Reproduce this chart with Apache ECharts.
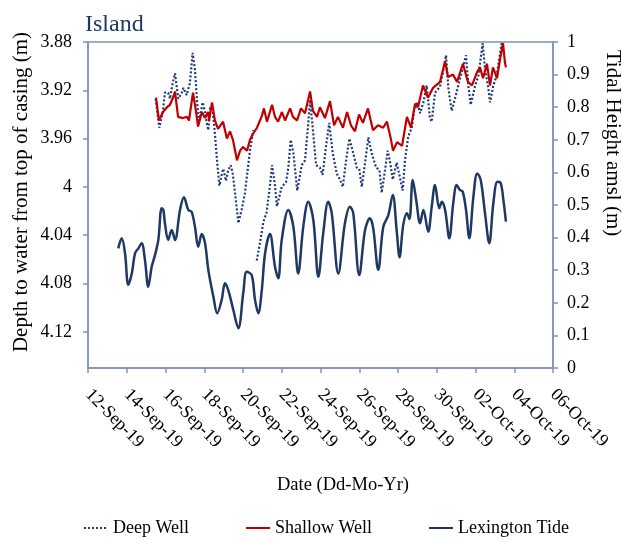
<!DOCTYPE html>
<html>
<head>
<meta charset="utf-8">
<script src="https://cdn.jsdelivr.net/npm/echarts@6/dist/echarts.min.js"></script>
<style>
html,body{margin:0;padding:0;background:#fff;}
#chart{width:622px;height:542px;}
</style>
</head>
<body>
<div id="chart"></div>
<script>
// X tick labels (value axis in days since 12-Sep-19, one label every 2 days)
const xTickLabels = ['12-Sep-19','14-Sep-19','16-Sep-19','18-Sep-19','20-Sep-19','22-Sep-19','24-Sep-19','26-Sep-19','28-Sep-19','30-Sep-19','02-Oct-19','04-Oct-19','06-Oct-19'];
const seriesNames = ['Deep Well','Shallow Well','Lexington Tide'];

// [day of September 2019 (31 = 1 Oct), depth to water (m)]
const deepWell = [
[15.49,3.927],[15.68,3.951],[15.86,3.938],[15.97,3.922],[16.14,3.922],[16.23,3.927],[16.37,3.914],[16.49,3.906],[16.58,3.917],[16.66,3.927],
[16.84,3.922],[16.92,3.918],[17.09,3.924],[17.26,3.914],[17.40,3.889],[17.52,3.903],[17.64,3.932],[17.74,3.945],[17.92,3.930],[18.04,3.938],
[18.13,3.947],[18.21,3.953],[18.30,3.934],[18.44,3.937],[18.55,3.956],[18.67,3.980],[18.78,3.999],[18.90,3.990],[18.98,3.985],[19.12,3.995],
[19.24,3.986],[19.37,3.982],[19.47,3.989],[19.59,4.005],[19.76,4.030],[19.93,4.019],[20.10,4.005],[20.36,3.970],[20.53,3.953],
[20.62,null],
[20.71,4.061],[20.88,4.046],[21.05,4.029],[21.22,4.021],[21.39,3.999],[21.50,3.982],[21.65,3.999],[21.75,4.016],[22.00,4.000],[22.22,3.996],
[22.34,3.984],[22.46,3.961],[22.60,3.972],[22.74,3.994],[22.80,4.003],[23.03,3.982],[23.20,3.978],[23.37,3.947],[23.46,3.928],[23.60,3.951],
[23.77,3.982],[23.97,3.984],[24.11,3.990],[24.28,3.967],[24.45,3.947],[24.63,3.972],[24.84,3.989],[25.01,3.994],[25.15,4.000],[25.32,3.978],
[25.49,3.960],[25.69,3.972],[25.87,3.984],[26.00,3.985],[26.13,4.000],[26.30,3.980],[26.47,3.959],[26.64,3.972],[26.87,3.984],[27.04,3.986],
[27.16,4.005],[27.33,3.986],[27.47,3.970],[27.62,3.982],[27.73,3.994],[27.93,3.980],[28.07,3.990],[28.24,4.003],[28.36,3.978],[28.53,3.958],
[28.71,3.951],[28.83,3.937],[29.00,3.930],[29.14,3.939],[29.31,3.930],[29.48,3.916],[29.65,3.943],[29.74,3.946],[29.91,3.922],[30.17,3.917],
[30.34,3.903],[30.48,3.891],[30.60,3.918],[30.77,3.937],[30.94,3.927],[31.11,3.916],[31.29,3.905],[31.51,3.891],[31.63,3.916],[31.75,3.932],
[31.97,3.917],[32.15,3.908],[32.37,3.881],[32.49,3.902],[32.66,3.918],[32.75,3.930],[32.92,3.916],[33.09,3.908],[33.35,3.881],[33.42,3.884]
];

// [day of September 2019, depth to water (m)]
const shallowWell = [
[15.51,3.926],[15.66,3.945],[15.87,3.938],[16.08,3.934],[16.23,3.932],[16.39,3.926],[16.49,3.921],[16.65,3.942],[16.90,3.943],[17.11,3.942],
[17.21,3.945],[17.42,3.922],[17.57,3.937],[17.68,3.950],[17.88,3.938],[18.04,3.943],[18.19,3.938],[18.25,3.945],[18.40,3.930],[18.55,3.945],
[18.71,3.952],[18.97,3.946],[19.17,3.960],[19.33,3.954],[19.48,3.961],[19.69,3.978],[19.85,3.970],[20.00,3.967],[20.21,3.970],[20.36,3.961],
[20.52,3.956],[20.72,3.951],[20.98,3.941],[21.08,3.935],[21.24,3.946],[21.50,3.932],[21.65,3.942],[21.81,3.946],[22.01,3.938],[22.17,3.945],
[22.43,3.935],[22.58,3.942],[22.79,3.945],[22.99,3.935],[23.20,3.939],[23.46,3.921],[23.61,3.937],[23.82,3.942],[23.97,3.934],[24.23,3.943],
[24.49,3.929],[24.70,3.949],[24.90,3.942],[25.16,3.951],[25.37,3.938],[25.57,3.949],[25.78,3.954],[25.99,3.940],[26.19,3.947],[26.45,3.935],
[26.71,3.953],[26.97,3.949],[27.23,3.951],[27.43,3.946],[27.64,3.961],[27.74,3.970],[27.95,3.963],[28.21,3.966],[28.31,3.967],[28.46,3.942],
[28.67,3.951],[28.88,3.931],[29.03,3.934],[29.29,3.916],[29.55,3.926],[29.81,3.918],[30.17,3.913],[30.43,3.896],[30.58,3.909],[30.84,3.907],
[31.05,3.913],[31.35,3.898],[31.61,3.913],[31.82,3.916],[32.08,3.905],[32.23,3.901],[32.39,3.910],[32.59,3.898],[32.75,3.916],[32.90,3.901],
[33.11,3.910],[33.27,3.894],[33.42,3.881],[33.52,3.897],[33.57,3.901]
];

// [day of September 2019, tidal height amsl (m)]
const lexingtonTide = [
[13.56,0.367],[13.74,0.398],[13.91,0.352],[14.08,0.255],[14.26,0.290],[14.43,0.352],[14.60,0.367],[14.77,0.383],[14.94,0.331],[15.11,0.249],
[15.29,0.311],[15.46,0.347],[15.63,0.393],[15.80,0.490],[15.89,0.485],[15.97,0.444],[16.14,0.393],[16.32,0.423],[16.49,0.393],[16.75,0.485],
[16.95,0.524],[17.18,0.485],[17.35,0.479],[17.52,0.433],[17.69,0.372],[17.87,0.411],[18.04,0.383],[18.21,0.301],[18.47,0.219],[18.67,0.168],
[18.90,0.209],[19.07,0.260],[19.24,0.239],[19.50,0.178],[19.76,0.122],[20.02,0.234],[20.19,0.295],[20.45,0.285],[20.62,0.209],[20.79,0.168],
[20.97,0.239],[21.14,0.352],[21.39,0.411],[21.65,0.311],[21.82,0.275],[22.00,0.393],[22.34,0.485],[22.60,0.433],[22.85,0.290],[23.11,0.433],
[23.37,0.510],[23.63,0.454],[23.89,0.280],[24.14,0.413],[24.40,0.510],[24.58,0.475],[24.92,0.290],[25.26,0.444],[25.52,0.495],[25.69,0.475],
[26.00,0.285],[26.30,0.423],[26.55,0.459],[26.72,0.429],[26.98,0.301],[27.24,0.433],[27.50,0.469],[27.73,0.531],[27.93,0.423],[28.08,0.340],
[28.27,0.439],[28.46,0.475],[28.59,0.457],[28.76,0.577],[28.94,0.515],[29.14,0.444],[29.31,0.485],[29.56,0.418],[29.74,0.495],[29.91,0.561],
[30.13,0.490],[30.26,0.510],[30.43,0.485],[30.65,0.398],[30.85,0.505],[31.03,0.561],[31.20,0.546],[31.34,0.541],[31.51,0.485],[31.68,0.398],
[31.89,0.525],[32.09,0.597],[32.27,0.577],[32.49,0.475],[32.71,0.383],[32.92,0.505],[33.13,0.571],[33.30,0.567],[33.44,0.515],[33.57,0.449]
];

const START_DAY = 12; // x axis origin: 12 September
const toXY = arr => arr.map(p => [p[0] - START_DAY, p[1]]);

const AXIS_COLOR = '#7F93B8';
const SERIF = '"Liberation Serif", "Times New Roman", serif';
const NAVY = '#1F3864';

const chart = echarts.init(document.getElementById('chart'), null, {renderer: 'canvas'});
chart.setOption({
  animation: false,
  backgroundColor: '#ffffff',
  grid: {left: 88, right: 69, top: 42, bottom: 174, show: true, borderColor: AXIS_COLOR, borderWidth: 1.5, containLabel: false},
  legend: {
    data: seriesNames,
    left: 83, top: 519, padding: 0,
    itemWidth: 24, itemHeight: 2, itemGap: 56,
    itemStyle: {opacity: 0},
    textStyle: {fontFamily: SERIF, fontSize: 18, color: '#000'}
  },
  xAxis: {
    type: 'value', min: 0, max: 24, interval: 2,
    axisLine: {show: true, lineStyle: {color: AXIS_COLOR, width: 1.5}},
    axisTick: {show: true, inside: false, length: 5, lineStyle: {color: AXIS_COLOR, width: 1.5}},
    splitLine: {show: false},
    axisLabel: {
      rotate: -45, margin: 24, color: '#000', fontFamily: SERIF, fontSize: 18,
      formatter: v => xTickLabels[Math.round(v / 2)] || ''
    }
  },
  yAxis: [
    {
      type: 'value', inverse: true, min: 3.88, max: 4.15, interval: 0.04,
      axisLine: {show: true, lineStyle: {color: AXIS_COLOR, width: 1.5}},
      axisTick: {show: true, inside: false, length: 5, lineStyle: {color: AXIS_COLOR, width: 1.5}},
      splitLine: {show: false},
      axisLabel: {margin: 16, color: '#000', fontFamily: SERIF, fontSize: 18, showMaxLabel: false}
    },
    {
      type: 'value', position: 'right', min: 0, max: 1, interval: 0.1,
      axisLine: {show: true, lineStyle: {color: AXIS_COLOR, width: 1.5}},
      axisTick: {show: true, inside: false, length: 5, lineStyle: {color: AXIS_COLOR, width: 1.5}},
      splitLine: {show: false},
      axisLabel: {margin: 14, color: '#000', fontFamily: SERIF, fontSize: 18}
    }
  ],
  graphic: [
    {type: 'text', left: 85, top: 13, style: {text: 'Island', font: '24px ' + SERIF, fill: NAVY}},
    {type: 'text', x: 21, y: 192, rotation: Math.PI / 2,
     style: {text: 'Depth to water from top of casing (m)', font: '21px ' + SERIF, fill: '#000', align: 'center', verticalAlign: 'middle'}},
    {type: 'text', x: 613, y: 143, rotation: -Math.PI / 2,
     style: {text: 'Tidal Height amsl (m)', font: '21px ' + SERIF, fill: '#000', align: 'center', verticalAlign: 'middle'}},
    {type: 'text', x: 343, y: 485,
     style: {text: 'Date (Dd-Mo-Yr)', font: '18.5px ' + SERIF, fill: '#000', align: 'center', verticalAlign: 'middle'}}
  ],
  series: [
    {
      name: seriesNames[0], type: 'line', yAxisIndex: 0, data: toXY(deepWell),
      symbol: 'none', connectNulls: false,
      lineStyle: {color: '#1F3A7A', width: 2.2, type: [2, 2]},
      itemStyle: {color: '#1F3A7A'}
    },
    {
      name: seriesNames[1], type: 'line', yAxisIndex: 0, data: toXY(shallowWell),
      symbol: 'none',
      lineStyle: {color: '#C00000', width: 2.2},
      itemStyle: {color: '#C00000'}
    },
    {
      name: seriesNames[2], type: 'line', yAxisIndex: 1, data: toXY(lexingtonTide),
      symbol: 'none', smooth: 0.35,
      lineStyle: {color: NAVY, width: 2.5},
      itemStyle: {color: NAVY}
    }
  ]
});
</script>
</body>
</html>
